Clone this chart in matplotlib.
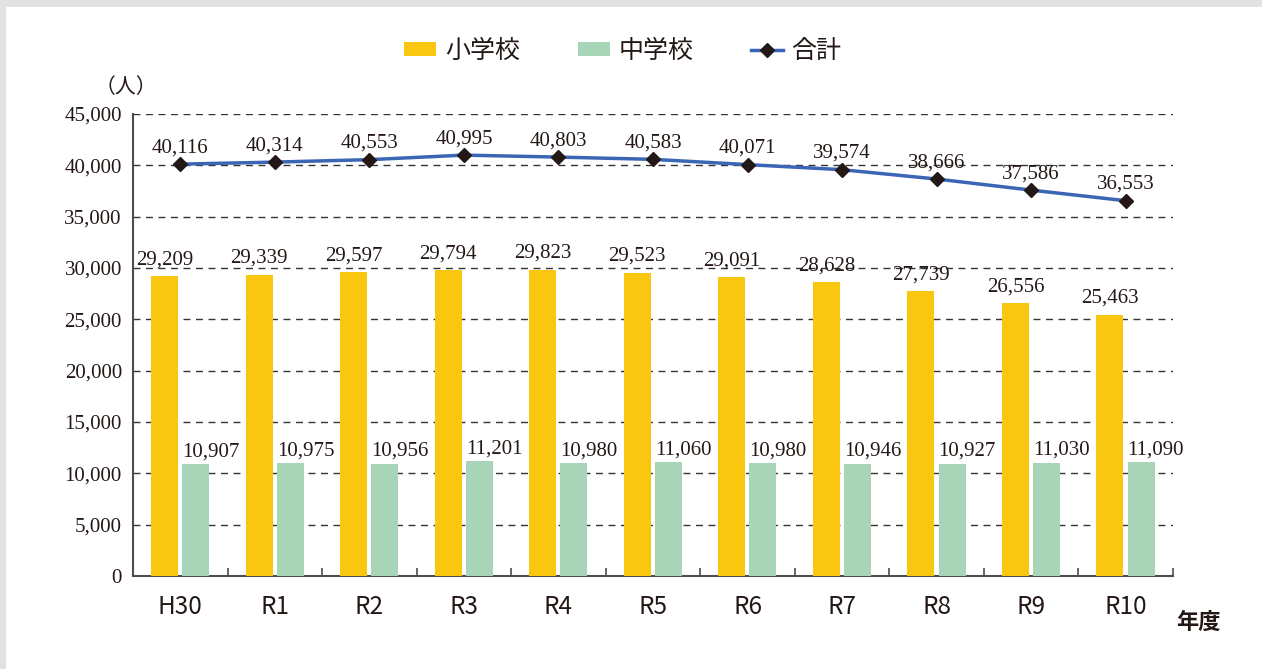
import matplotlib
matplotlib.use("Agg")
import matplotlib.pyplot as plt
import numpy as np
from matplotlib.lines import Line2D
from matplotlib.patches import Patch, Rectangle

categories = ["H30", "R1", "R2", "R3", "R4", "R5", "R6", "R7", "R8", "R9", "R10"]
elementary = [29209, 29339, 29597, 29794, 29823, 29523, 29091, 28628, 27739, 26556, 25463]
junior = [10907, 10975, 10956, 11201, 10980, 11060, 10980, 10946, 10927, 11030, 11090]
total = [40116, 40314, 40553, 40995, 40803, 40583, 40071, 39574, 38666, 37586, 36553]
yticks = [0, 5000, 10000, 15000, 20000, 25000, 30000, 35000, 40000, 45000]

YELLOW = "#f9c710"
GREEN = "#a8d5b8"
BLUE = "#3a66b5"
TXT = "#231815"

SANS = ["Noto Sans CJK JP", "DejaVu Sans"]
SERIF = ["Liberation Serif", "DejaVu Serif"]

fig = plt.figure(figsize=(12.62, 6.69), dpi=100)
fig.patch.set_facecolor("#e2e2e2")
fig.patches.append(Rectangle((6 / 1262, 0), 1, 1 - 7 / 669, transform=fig.transFigure,
                             facecolor="white", edgecolor="none", zorder=-10))

ax = fig.add_axes([133 / 1262, 93 / 669, 1040 / 1262, 462 / 669])
ax.set_facecolor("none")
x = np.arange(len(categories))
bw = 0.286
off_y = -0.167
off_g = 0.163

ax.bar(x + off_y, elementary, width=bw, color=YELLOW, zorder=3)
ax.bar(x + off_g, junior, width=bw, color=GREEN, zorder=3)
ax.plot(x, total, color=BLUE, lw=2.5, marker="D", markersize=7,
        markerfacecolor=TXT, markeredgecolor=TXT, zorder=5)

FS = 15
for xi, v in zip(x, elementary):
    ax.annotate(f"{v:,}", (xi + off_y, v), xytext=(0, 5), textcoords="offset points",
                ha="center", va="bottom", fontsize=FS, family=SERIF, color=TXT, zorder=6)
for xi, v in zip(x, junior):
    ax.annotate(f"{v:,}", (xi + off_g - bw / 2, v), xytext=(0, 2), textcoords="offset points",
                ha="left", va="bottom", fontsize=FS, family=SERIF, color=TXT, zorder=6)
for xi, v in zip(x, total):
    ax.annotate(f"{v:,}", (xi, v), xytext=(0, 5), textcoords="offset points",
                ha="center", va="bottom", fontsize=FS, family=SERIF, color=TXT, zorder=6)

ax.set_xlim(-0.5, len(categories) - 0.5)
ax.set_ylim(0, 45000)
ax.set_yticks(yticks)
ax.set_yticklabels([f"{t:,}" for t in yticks], family=SERIF, fontsize=FS, color=TXT)
ax.tick_params(axis="y", length=0, pad=8)

ax.set_xticks(x)
ax.set_xticklabels(categories, fontsize=17.5, color=TXT)
for lab in ax.get_xticklabels():
    lab.set_fontfamily(SANS)
ax.tick_params(axis="x", which="major", length=0, pad=13)
ax.set_xticks(np.arange(len(categories) + 1) - 0.5, minor=True)
ax.tick_params(axis="x", which="minor", direction="in", length=6, width=1.2, color="#4d4d4d")

for yv in yticks[1:]:
    ax.axhline(yv, color="#333333", lw=1.0, ls=(0, (5, 4)), zorder=1)

for s in ["top", "right"]:
    ax.spines[s].set_visible(False)
for s in ["left", "bottom"]:
    ax.spines[s].set_color("#4d4d4d")
    ax.spines[s].set_linewidth(1.5)

handles = [Patch(facecolor=YELLOW, edgecolor="none"),
           Patch(facecolor=GREEN, edgecolor="none"),
           Line2D([0], [0], color=BLUE, lw=2.5, marker="D", markersize=7,
                  markerfacecolor=TXT, markeredgecolor=TXT)]
fig.legend(handles, ["小学校", "中学校", "合計"], loc="center", ncol=3,
           bbox_to_anchor=(623 / 1262, 1 - 51 / 669), frameon=False,
           prop={"family": SANS, "size": 18}, handlelength=1.28, handleheight=0.48,
           columnspacing=2.3, handletextpad=0.35, labelcolor=TXT)

fig.text(126 / 1262, 1 - 87 / 669, "（人）", ha="center", va="center",
         family=SANS, fontsize=15, color=TXT)
fig.text(1198 / 1262, 1 - 622 / 669, "年度", ha="center", va="center",
         family=SANS, fontsize=16, weight="bold", color=TXT)

fig.savefig("out.png", dpi=100, facecolor=fig.get_facecolor())
